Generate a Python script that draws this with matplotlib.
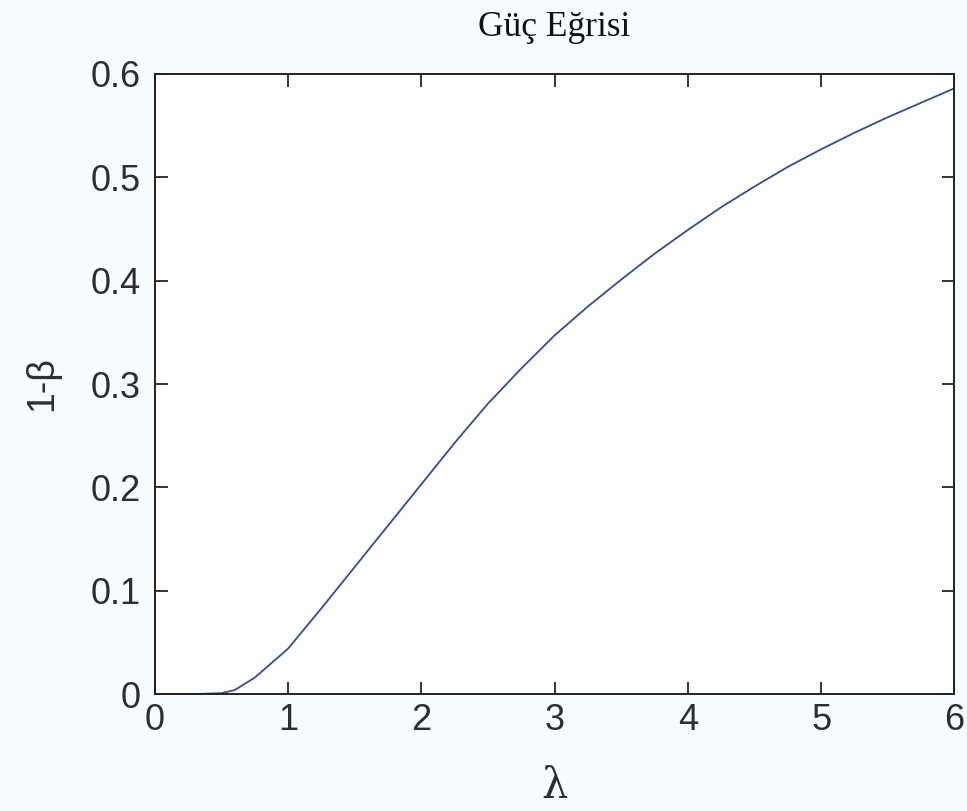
import matplotlib
matplotlib.use('Agg')
import matplotlib.pyplot as plt

# Power curve values
lam = [0, 0.25, 0.5, 0.6, 0.75, 1.0, 1.25, 1.5, 1.75, 2.0, 2.25, 2.5, 2.75, 3.0,
       3.25, 3.5, 3.75, 4.0, 4.25, 4.5, 4.75, 5.0, 5.25, 5.5, 5.75, 6.0]
power = [0, 0, 0.001, 0.004, 0.016, 0.044, 0.083, 0.123, 0.163, 0.203, 0.243,
         0.281, 0.315, 0.347, 0.375, 0.401, 0.426, 0.449, 0.471, 0.491, 0.510,
         0.527, 0.543, 0.558, 0.572, 0.586]
xticks = [0, 1, 2, 3, 4, 5, 6]
yticks = [0, 0.1, 0.2, 0.3, 0.4, 0.5, 0.6]

tick_font = ['Liberation Sans', 'DejaVu Sans']
txt_color = '#2e2e2e'

fig = plt.figure(figsize=(9.67, 8.11), dpi=100, facecolor='#f8fbfd')
ax = fig.add_axes([0.160, 0.144, 0.827, 0.765])
ax.set_facecolor('#fbfdfe')

ax.plot(lam, power, color='#3e4c7e', linewidth=1.3)

ax.set_xlim(0, 6)
ax.set_ylim(0, 0.6)
ax.set_xticks(xticks)
ax.set_yticks(yticks)
ax.set_xticklabels([str(t) for t in xticks], family=tick_font, fontsize=26, color=txt_color)
ax.set_yticklabels(['0' if t == 0 else f'{t:.1f}' for t in yticks], family=tick_font,
                   fontsize=26, color=txt_color)
ax.tick_params(direction='in', length=9, width=1.3, top=True, right=True, color='#222222')
ax.tick_params(axis='x', pad=6)
ax.tick_params(axis='y', pad=10)
for s in ax.spines.values():
    s.set_linewidth(1.4)
    s.set_color('#222222')

ax.set_title('Güç Eğrisi', family='Liberation Serif', fontsize=25.5, pad=27, color='#111111')
ax.set_xlabel('λ', family='DejaVu Serif', fontsize=30, labelpad=20, color=txt_color)
ax.set_ylabel('1-β', family=tick_font, fontsize=27, labelpad=22, color=txt_color)

fig.savefig('out.png', dpi=100, facecolor=fig.get_facecolor())
